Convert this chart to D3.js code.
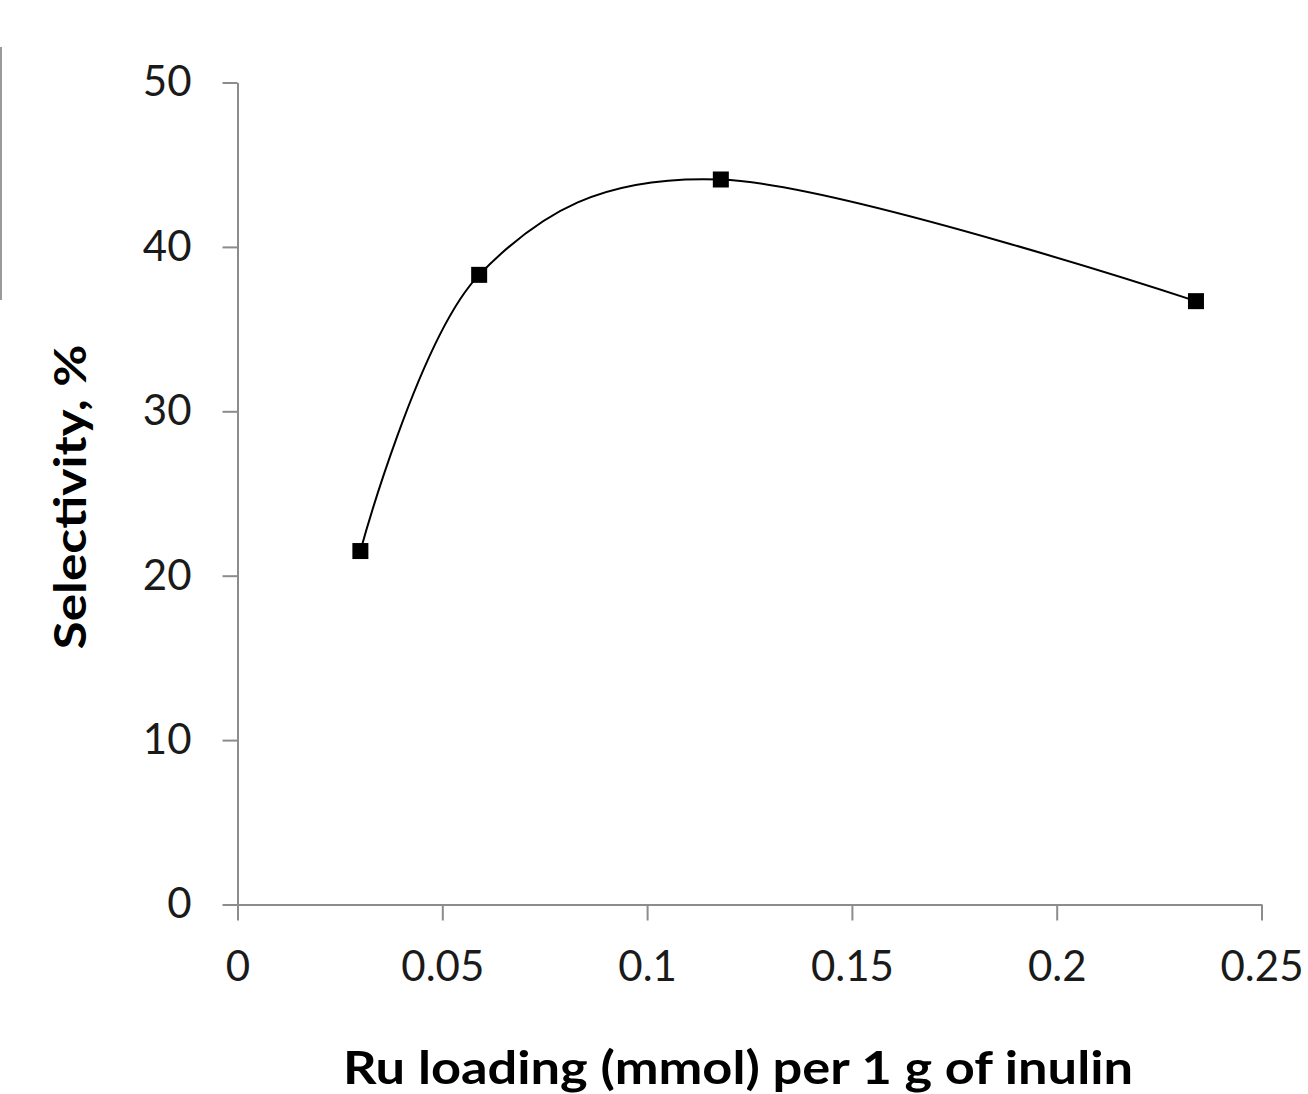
<!DOCTYPE html>
<html><head><meta charset="utf-8">
<script src="https://cdn.jsdelivr.net/npm/d3@7"></script>
<style>body{margin:0;background:#fff}svg{display:block}</style>
</head><body>
<script>
const loading = [0.03, 0.059, 0.118, 0.234];
const selectivity = [21.5, 38.3, 44.1, 36.7];
const xTicks = [0, 0.05, 0.1, 0.15, 0.2, 0.25];
const xTickLabels = ["0", "0.05", "0.1", "0.15", "0.2", "0.25"];
const yTicks = [0, 10, 20, 30, 40, 50];
const xTitle = "Ru loading (mmol) per 1 g of inulin";
const yTitle = "Selectivity, %";

const W = 1308, H = 1094;
const svg = d3.select("body").append("svg").attr("width", W).attr("height", H);
const font = "Lato, 'Open Sans', sans-serif";
const axisColor = "#8c8c8c";

const x = d3.scaleLinear().domain([0, 0.25]).range([237.5, 1261.5]);
const y = d3.scaleLinear().domain([0, 50]).range([904.5, 82.5]);

// fragment of neighbouring panel border on the left edge
svg.append("line").attr("x1", 1).attr("x2", 1).attr("y1", 47).attr("y2", 300)
  .attr("stroke", "#9a9a9a").attr("stroke-width", 2);

const xAxis = svg.append("g").attr("transform", `translate(0,${y(0)})`)
  .call(d3.axisBottom(x).tickValues(xTicks).tickFormat((d, i) => xTickLabels[i]).tickSizeInner(16).tickSizeOuter(0).tickPadding(31));
const yAxis = svg.append("g").attr("transform", `translate(${x(0)},0)`)
  .call(d3.axisLeft(y).tickValues(yTicks).tickSizeInner(15).tickSizeOuter(0).tickPadding(31));
[xAxis, yAxis].forEach(g => {
  g.selectAll("path,line").attr("stroke", axisColor).attr("stroke-width", 2);
  g.selectAll("text").attr("fill", "#1a1a1a").style("font-family", font).style("font-size", "42px");
});

const pts = loading.map((d, i) => [x(d), y(selectivity[i])]);
svg.append("path").attr("d", d3.line().curve(d3.curveCardinal.tension(0))(pts))
  .attr("fill", "none").attr("stroke", "#000").attr("stroke-width", 2);
svg.selectAll("rect.m").data(loading).join("rect").attr("class", "m")
  .attr("x", d => x(d) - 8).attr("y", (d, i) => y(selectivity[i]) - 8)
  .attr("width", 16).attr("height", 16).attr("fill", "#000");

svg.append("text").attr("x", 738).attr("y", 1084).attr("text-anchor", "middle")
  .style("font-family", font).style("font-weight", "bold").style("font-size", "46px")
  .attr("textLength", 790).attr("lengthAdjust", "spacingAndGlyphs").text(xTitle);
svg.append("text").attr("transform", "translate(86,497) rotate(-90)").attr("text-anchor", "middle")
  .style("font-family", font).style("font-weight", "bold").style("font-size", "44px")
  .attr("textLength", 305).attr("lengthAdjust", "spacingAndGlyphs").text(yTitle);
</script>
</body></html>
